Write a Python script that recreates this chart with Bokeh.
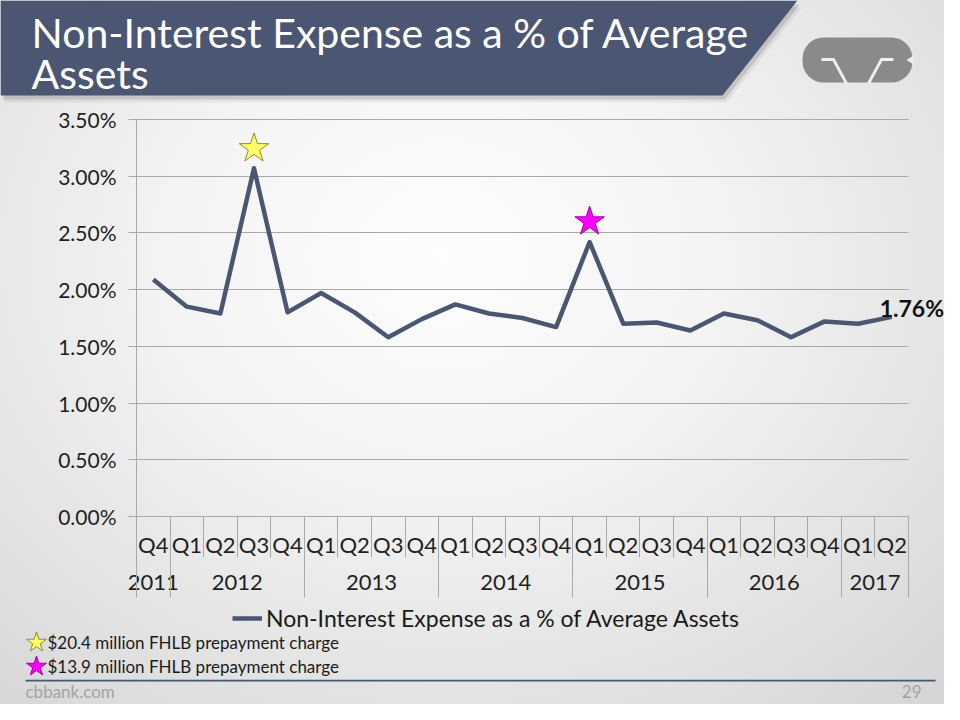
from bokeh.plotting import figure
from bokeh.models import (Range1d, LinearAxis, FixedTicker, PrintfTickFormatter, Grid, Label,
                          Legend, LegendItem, PolyAnnotation, BoxAnnotation)
from bokeh.embed import file_html
from bokeh.resources import INLINE
import math

# ---------------- data ----------------
quarters = ["Q4", "Q1", "Q2", "Q3", "Q4", "Q1", "Q2", "Q3", "Q4", "Q1", "Q2", "Q3",
            "Q4", "Q1", "Q2", "Q3", "Q4", "Q1", "Q2", "Q3", "Q4", "Q1", "Q2"]
years = ["2011"] + ["2012"] * 4 + ["2013"] * 4 + ["2014"] * 4 + ["2015"] * 4 + ["2016"] * 4 + ["2017"] * 2
expense_pct = [2.09, 1.85, 1.79, 3.07, 1.80, 1.97, 1.80, 1.58, 1.74, 1.87, 1.79, 1.75,
               1.67, 2.42, 1.70, 1.71, 1.64, 1.79, 1.73, 1.58, 1.72, 1.70, 1.76]
y_ticks = [0.0, 0.5, 1.0, 1.5, 2.0, 2.5, 3.0, 3.5]
star_points = [("2012", "Q3"), ("2015", "Q1")]
star_y = [3.245, 2.60]
star_fill = ["#ffff66", "#ff00ff"]
star_line = ["#8c8c3a", "#a000a0"]
notes = ["$20.4 million FHLB prepayment charge", "$13.9 million FHLB prepayment charge"]
series_name = "Non-Interest Expense as a % of Average Assets"
title_lines = ["Non-Interest Expense as a % of Average", "Assets"]
footer_left = "cbbank.com"
footer_right = "29"

# ---------------- derived positions ----------------
idx = list(range(len(expense_pct)))
year_names = []
for yv in years:
    if yv not in year_names:
        year_names.append(yv)
year_centers = [sum(i for i in idx if years[i] == yv) / years.count(yv) for yv in year_names]
quarter_bounds = [i - 0.5 for i in idx] + [idx[-1] + 0.5]
year_bounds = [-0.5] + [i - 0.5 for i in idx[1:] if years[i] != years[i - 1]] + [idx[-1] + 0.5]
star_idx = [next(i for i in idx if (years[i], quarters[i]) == sp) for sp in star_points]

# ---------------- layout constants (pixels) ----------------
W, H, OFF = 944, 704, 0
PX_L, PX_R = 136, 908
PY_0, PY_TOP = 516, 119
cw = (PX_R - PX_L) / len(idx)
ppu = (PY_0 - PY_TOP) / y_ticks[-1]


def dx(px):
    return -0.5 + (px - PX_L) / cw


def dy(py):
    return (PY_0 - py) / ppu


def sx(px):
    return px - OFF


def sy(py):
    return OFF + H - py


LINE = "#4b5672"
GRID = "#a9a9a9"
FONT = "Lato"

p = figure(width=W, height=H, x_range=Range1d(dx(OFF), dx(OFF + W)),
           y_range=Range1d(dy(OFF + H), dy(OFF)),
           x_axis_location=None, y_axis_location=None, toolbar_location=None,
           output_backend="svg", min_border=0, outline_line_color=None,
           background_fill_alpha=0, border_fill_alpha=0, title="")
p.title.visible = False
p.center = [r for r in p.center if not isinstance(r, Grid)]
p.styles = {"background": "radial-gradient(ellipse 80% 90% at 47% 36%, #fdfdfd 0%, #f4f4f4 35%, "
                          "#e3e3e3 70%, #d3d3d3 100%)"}

# ---------------- grid ----------------
if "cross_bounds" in Grid.properties():
    g = Grid(dimension=1, ticker=FixedTicker(ticks=y_ticks), grid_line_color=GRID,
             grid_line_width=1, cross_bounds=(-0.5, idx[-1] + 0.5))
    p.add_layout(g)
else:
    p.segment(x0=[-0.5] * len(y_ticks), x1=[idx[-1] + 0.5] * len(y_ticks), y0=y_ticks, y1=y_ticks,
              line_color=GRID, line_width=1)

# ---------------- y axis ----------------
yaxis = LinearAxis(ticker=FixedTicker(ticks=y_ticks), formatter=PrintfTickFormatter(format="%.2f%%"),
                   fixed_location=-0.5, bounds=(dy(597), y_ticks[-1]),
                   axis_line_color=GRID, major_tick_line_color=GRID, major_tick_out=8, major_tick_in=0,
                   minor_tick_line_color=None, major_label_standoff=12,
                   major_label_text_font=FONT, major_label_text_font_size="21px",
                   major_label_text_color="#1f1f1f")
p.add_layout(yaxis, "left")

# ---------------- x axes (quarters, years, separators) ----------------
qaxis = LinearAxis(ticker=FixedTicker(ticks=[float(i) for i in idx]),
                   major_label_overrides={i: quarters[i] for i in idx},
                   fixed_location=0, bounds=(-0.5, idx[-1] + 0.5),
                   axis_line_color=GRID, major_tick_line_color=None, minor_tick_line_color=None,
                   major_tick_out=0, major_tick_in=0, major_label_standoff=14,
                   major_label_text_font=FONT, major_label_text_font_size="22px",
                   major_label_text_color="#1f1f1f")
p.add_layout(qaxis, "below")

yrax = LinearAxis(ticker=FixedTicker(ticks=year_centers),
                  major_label_overrides={c: n for c, n in zip(year_centers, year_names)},
                  fixed_location=0, axis_line_color=None, major_tick_line_color=None,
                  minor_tick_line_color=None, major_tick_out=0, major_tick_in=0,
                  major_label_standoff=58, major_label_text_font=FONT,
                  major_label_text_font_size="22px", major_label_text_color="#1f1f1f")
p.add_layout(yrax, "below")

for bounds, length in ((quarter_bounds, 41), (year_bounds, 81)):
    sep = LinearAxis(ticker=FixedTicker(ticks=bounds),
                     major_label_overrides={b: "" for b in bounds},
                     fixed_location=0, axis_line_color=None, major_tick_line_color=GRID,
                     major_tick_line_width=1, minor_tick_line_color=None,
                     major_tick_out=length, major_tick_in=0, major_label_text_color=None)
    p.add_layout(sep, "below")

# ---------------- series ----------------
line_r = p.line(idx, expense_pct, line_color=LINE, line_width=4.5, line_join="round")
p.scatter(star_idx, star_y, marker="star", size=31, fill_color=star_fill, line_color=star_line,
          line_width=1)

p.add_layout(Label(x=idx[-1], y=expense_pct[-1], text=f"{expense_pct[-1]:.2f}%",
                   x_offset=-12, y_offset=9, text_align="left", text_baseline="middle",
                   text_font=FONT, text_font_style="bold", text_font_size="23px",
                   text_color="#111111"))

legend = Legend(items=[LegendItem(label=series_name, renderers=[line_r])],
                location=(sx(232), sy(632)), orientation="horizontal",
                background_fill_alpha=0, border_line_color=None, padding=0, margin=0,
                glyph_width=30, glyph_height=24, label_standoff=4,
                label_text_font=FONT, label_text_font_size="23px", label_text_color="#1a1a1a")
p.add_layout(legend)

# ---------------- notes ----------------
note_py = [642, 666]
p.scatter([dx(36)] * len(notes), [dy(v) for v in note_py], marker="star", size=21,
          fill_color=star_fill, line_color=star_line, line_width=1)
for txt, py in zip(notes, note_py):
    p.add_layout(Label(x=sx(47), y=sy(py), x_units="screen", y_units="screen", text=txt,
                       text_baseline="middle", text_font=FONT, text_font_size="17px",
                       text_color="#1a1a1a"))

# ---------------- title banner ----------------
banner_x = [0, 797, 722, 0]
banner_y = [0, 0, 95, 95]
for off, alpha in ((7, 0.06), (4, 0.12)):
    p.add_layout(PolyAnnotation(xs=[sx(v + off * 0.6) for v in banner_x], ys=[sy(v + off) for v in banner_y],
                                xs_units="screen", ys_units="screen", fill_color="#000000",
                                fill_alpha=alpha, line_color=None))
p.add_layout(PolyAnnotation(xs=[sx(v) for v in banner_x], ys=[sy(v) for v in banner_y],
                            xs_units="screen", ys_units="screen", fill_color=LINE, fill_alpha=1,
                            line_color=None))
for txt, mid in zip(title_lines, [32, 73]):
    p.add_layout(Label(x=sx(31), y=sy(mid), x_units="screen", y_units="screen", text=txt,
                       text_baseline="middle", text_font=FONT, text_font_size="41px",
                       text_color="#ffffff"))

# ---------------- logo ----------------
box_kw = dict(left=sx(802), right=sx(912), top=sy(37), bottom=sy(82),
              left_units="screen", right_units="screen", top_units="screen", bottom_units="screen",
              fill_color="#8a8a8a", fill_alpha=1, line_color=None)
if "border_radius" in BoxAnnotation.properties():
    box_kw["border_radius"] = 21
p.add_layout(BoxAnnotation(**box_kw))


def poly(xs, ys, color="#f0f0f0"):
    return PolyAnnotation(xs=[sx(v) for v in xs], ys=[sy(v) for v in ys], xs_units="screen",
                          ys_units="screen", fill_color=color, fill_alpha=1, line_color=None)


def stroke(x0, y0, x1, y1, w=1.4):
    ddx, ddy = x1 - x0, y1 - y0
    ln = math.hypot(ddx, ddy)
    nx, ny = -ddy / ln * w, ddx / ln * w
    return poly([x0 + nx, x1 + nx, x1 - nx, x0 - nx], [y0 + ny, y1 + ny, y1 - ny, y0 - ny])


for seg in [(821, 59, 834, 59), (833, 59, 846, 83), (868, 83, 881, 59), (880, 59, 893, 59)]:
    p.add_layout(stroke(*seg))
p.add_layout(poly([913, 906, 913], [55, 59.5, 64], "#ececec"))

# ---------------- footer ----------------
p.add_layout(BoxAnnotation(left=sx(25), right=sx(935), top=sy(679.3), bottom=sy(680.9),
                           left_units="screen", right_units="screen", top_units="screen",
                           bottom_units="screen", fill_color=LINE, fill_alpha=1, line_color=None))
p.add_layout(Label(x=sx(25), y=sy(691), x_units="screen", y_units="screen", text=footer_left,
                   text_baseline="middle", text_font=FONT, text_font_size="17px", text_color="#a3a3a3"))
p.add_layout(Label(x=sx(921), y=sy(691), x_units="screen", y_units="screen", text=footer_right,
                   text_align="right", text_baseline="middle", text_font=FONT, text_font_size="17px",
                   text_color="#a3a3a3"))

open("out.html", "w").write(file_html(p, INLINE))
